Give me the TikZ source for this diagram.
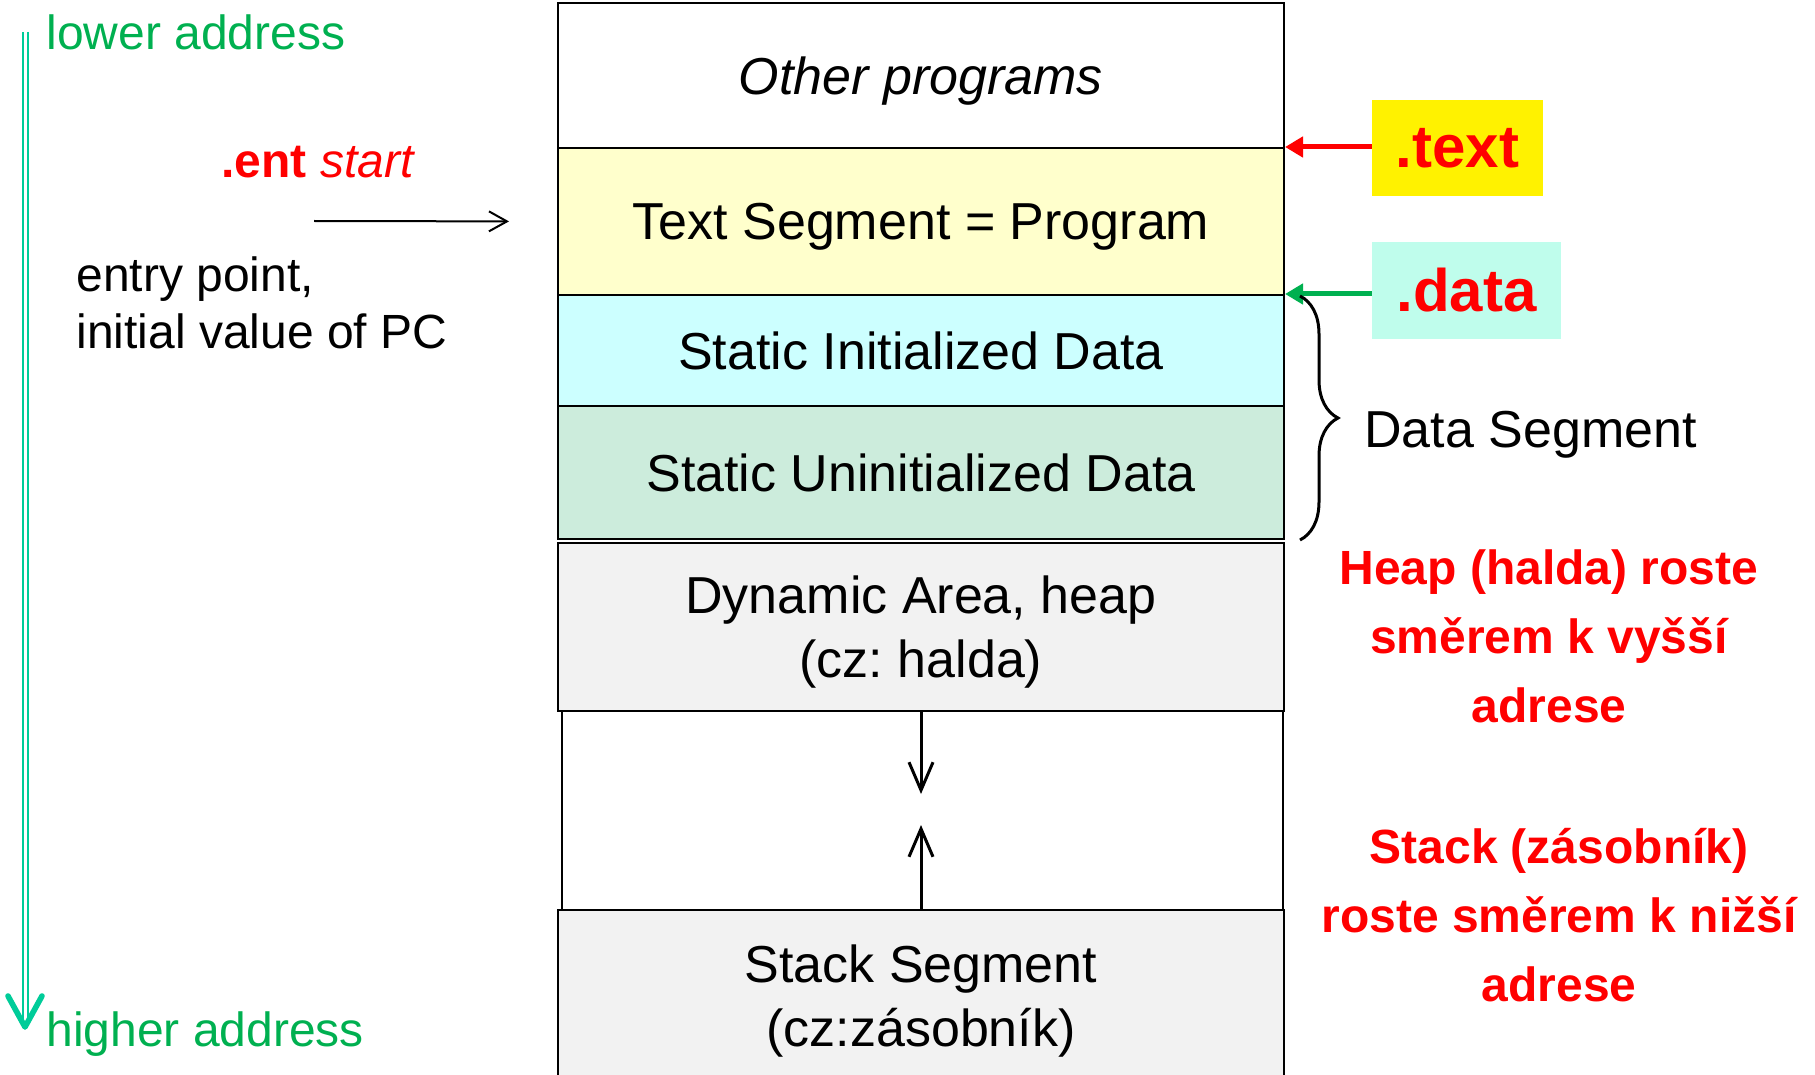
\documentclass[tikz,border=0pt]{standalone}
\usepackage{fontspec}
\setmainfont{Liberation Sans}
\usetikzlibrary{arrows.meta,decorations.pathreplacing,calc}
\frenchspacing

\definecolor{addrgreen}{RGB}{0,176,80}
\definecolor{turq}{RGB}{0,204,153}
\definecolor{textfill}{RGB}{255,255,204}
\definecolor{initfill}{RGB}{204,255,255}
\definecolor{uninitfill}{RGB}{204,236,220}
\definecolor{dynfill}{RGB}{242,242,242}
\definecolor{datalblfill}{RGB}{191,253,236}
\definecolor{hotred}{RGB}{255,0,0}

\tikzset{
  seg/.style={draw=black, line width=1pt, inner sep=0pt, minimum width=363pt,
              align=center, text depth=0pt, font=\fontsize{26}{32}\selectfont},
  seclbl/.style={inner sep=0pt, text=hotred, font=\fontsize{30}{36}\selectfont\bfseries},
  note/.style={inner sep=0pt, align=center, text=hotred, font=\fontsize{24}{34.5}\selectfont\bfseries},
  plain/.style={inner sep=0pt, font=\fontsize{24}{28.5}\selectfont},
  addr/.style={inner sep=0pt, text=addrgreen, font=\fontsize{24}{28.5}\selectfont},
  growarrow/.style={line width=1.5pt, -{Straight Barb[length=14pt,width=12pt,line width=1.5pt]}},
  ptrarrow/.style={line width=2.5pt, -{Triangle[length=9pt,width=10pt]}}
}

\begin{document}
\begin{tikzpicture}[x=0.5pt,y=-0.5pt]
\useasboundingbox (0,0) rectangle (1815,1075);
\clip (0,0) rectangle (1815,1075);

% memory layout column
\node[seg, minimum width=360.5pt, minimum height=99.5pt] (gap) at (922.5,810.5) {};
\node[seg, minimum height=72.25pt] (other) at (921,75.75) {\itshape Other programs};
\node[seg, fill=textfill, minimum height=73.5pt] (text) at (921,221.5) {Text Segment = Program};
\node[seg, fill=initfill, minimum height=55.5pt] (si) at (921,350.5) {Static Initialized Data};
\node[seg, fill=uninitfill, minimum height=66.5pt] (su) at (921,472.5) {Static Uninitialized Data};
\node[seg, fill=dynfill, minimum height=84pt] (heap) at (921,627) {Dynamic Area, heap\\(cz: halda)};
\node[seg, fill=dynfill, minimum height=86pt] (stack) at (921,996) {Stack Segment\\(cz:zásobník)};

% growth of heap and stack
\coordinate (heapend) at (921,794);
\coordinate (stackend) at (921,825);
\draw[growarrow] (heap.south) -- (heapend);
\draw[growarrow] (stack.north) -- (stackend);

% address direction on the left
\coordinate (atop) at (25,32);
\coordinate (abot) at (25,1024);
\draw[draw=turq, line width=1pt, double=white, double distance=1.5pt] (atop) -- (abot);
\draw[turq, line width=2.8pt, line cap=round, line join=round]
  ($(abot)+(-17,-28)$) -- ($(abot)+(0,3)$) -- ($(abot)+(17,-28)$);
\node[addr, anchor=base west] (lower) at (46,50) {lower address};
\node[addr, anchor=base west] (higher) at (46,1046) {higher address};

% entry point
\node[inner sep=0pt, text=hotred, font=\fontsize{24}{28.5}\selectfont, anchor=base west] (ent) at (221,178)
  {\bfseries .ent \mdseries\itshape start};
\coordinate (entfrom) at (314,221);
\draw[line width=1pt, -{Straight Barb[length=9pt,width=10pt,line width=1pt]}, shorten >=24pt]
  (entfrom) -- (text.west);
\node[plain, align=left, anchor=west] (entry) at (76,303) {entry point,\\initial value of PC};

% section labels
\node[seclbl, fill=yellow, minimum width=85.5pt, minimum height=48pt] (textlbl) at (1457.5,148) {.text};
\node[seclbl, fill=datalblfill, minimum width=94.5pt, minimum height=48.5pt] (datalbl) at (1466.5,290.5) {.data};
\draw[ptrarrow, hotred] (textlbl.west |- text.north east) -- (text.north east);
\draw[ptrarrow, addrgreen] (datalbl.west |- si.north east) -- (si.north east);

% data segment brace
\draw[line width=1.5pt, decorate, decoration={brace, amplitude=19pt}]
  ($(si.north east)+(15,2)$) -- ($(su.south east)+(15,0)$);
\node[inner sep=0pt, text depth=0pt, font=\fontsize{26}{32}\selectfont, anchor=west] (dseg) at (1364,429) {Data Segment};

% growth notes
\node[note] (heapnote) at (1549,636) {Heap (halda) roste\\směrem k vyšší\\adrese};
\node[note] (stacknote) at (1559,915) {Stack (zásobník)\\roste směrem k nižší\\adrese};
\end{tikzpicture}
\end{document}
